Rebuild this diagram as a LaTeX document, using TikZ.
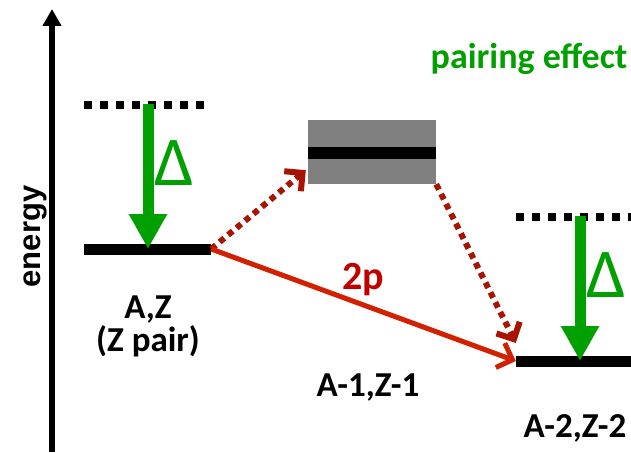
\documentclass[tikz,border=0pt]{standalone}
\usepackage{fontspec}
\setmainfont{Carlito}
\newfontfamily\arialfont{Liberation Sans}
\usetikzlibrary{arrows.meta,calc}
\definecolor{pgreen}{RGB}{0,160,0}
\definecolor{pred}{RGB}{210,32,0}
\definecolor{pdred}{RGB}{168,20,0}
\definecolor{plabel}{RGB}{192,0,0}
\definecolor{pgray}{RGB}{128,128,128}
\begin{document}
\begin{tikzpicture}[x=1pt,y=-1pt,
  bar/.style={fill=black,inner sep=0pt,minimum height=11pt},
  dotline/.style={line width=8pt,dash pattern=on 8pt off 8pt},
  gaparrow/.style={draw=pgreen,line width=11pt,-{Triangle[length=35pt,width=36pt]}},
  twop/.style={draw=pred,line width=5pt,-{Straight Barb[length=13pt,width=26pt]}},
  onep/.style={draw=pdred,line width=6pt,dash pattern=on 6pt off 5pt,-{Straight Barb[length=13pt,width=26pt]}},
  lbl/.style={inner sep=0pt,anchor=base,font=\bfseries\fontsize{35}{35}\selectfont},
  dlt/.style={inner sep=0pt,anchor=base,text=pgreen,font=\fontsize{70}{70}\selectfont}
]
\useasboundingbox (0,0) rectangle (631,452);
% energy axis
\coordinate (ax0) at (52,452);
\coordinate (ax1) at (52,9);
\draw[line width=6pt,-{Triangle[length=17pt,width=18pt]}] (ax0) -- (ax1);
\node[inner sep=0pt,anchor=base,rotate=90,font=\arialfont\bfseries\fontsize{31}{31}\selectfont] (en) at (40,236.5) {energy};
% levels
\node[bar,minimum width=127pt] (L) at (147.5,249) {};
\node[fill=pgray,inner sep=0pt,minimum width=128pt,minimum height=64pt] (M) at (372,152) {};
\node[bar,minimum width=128pt,minimum height=12pt] (Mb) at (372,153) {};
\node[bar,minimum width=115pt] (R) at (573.5,361) {};
% dotted levels
\coordinate (ld1) at (84,105);
\coordinate (ld2) at (204,105);
\draw[dotline] (ld1) -- (ld2);
\coordinate (rd1) at (516,217);
\coordinate (rd2) at (636,217);
\draw[dotline] (rd1) -- (rd2);
% pairing gaps
\coordinate (lg1) at (148,104);
\coordinate (lg2) at (148,249);
\draw[gaparrow] (lg1) -- (lg2);
\coordinate (rg1) at (580,216);
\coordinate (rg2) at (580,361);
\draw[gaparrow] (rg1) -- (rg2);
% transitions
\draw[onep] (L.east) -- ($(M.south west)+(-2,-14)$);
\draw[onep] (M.south east) -- ($(R.west)+(0,-18)$);
\draw[twop] (L.east) -- (R.west);
% labels
\node[lbl] (tAZ) at (148,318) {A,Z};
\node[lbl] (tZp) at (148,351) {(Z pair)};
\node[lbl] (tA1) at (368,396) {A-1,Z-1};
\node[lbl] (tA2) at (575,437) {A-2,Z-2};
\node[lbl,text=pgreen,font=\bfseries\fontsize{36}{36}\selectfont] (tpe) at (529,68) {pairing effect};
\node[lbl,text=plabel,font=\bfseries\fontsize{40}{40}\selectfont] (t2p) at (363,289) {2p};
\node[dlt] (d1) at (174,185) {Δ};
\node[dlt] (d2) at (606,297) {Δ};
\end{tikzpicture}
\end{document}
